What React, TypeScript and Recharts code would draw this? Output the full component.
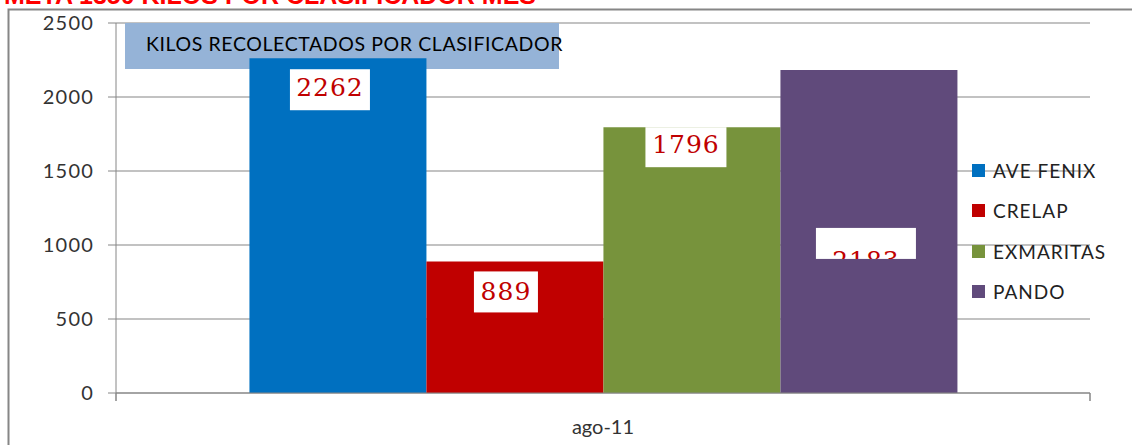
import React from 'react';
import { BarChart, Bar, XAxis, YAxis, CartesianGrid, Legend, LabelList, Customized } from 'recharts';

const categories = ['ago-11'];
const seriesNames = ['AVE FENIX', 'CRELAP', 'EXMARITAS', 'PANDO'];
const aveFenix = [2262];
const crelap = [889];
const exmaritas = [1796];
const pando = [2183];
const yTicks = [0, 500, 1000, 1500, 2000, 2500];

const colors = ['#0070c0', '#c00000', '#77933c', '#604a7b'];

const data = categories.map((name, i) => ({
  name,
  'AVE FENIX': aveFenix[i],
  CRELAP: crelap[i],
  EXMARITAS: exmaritas[i],
  PANDO: pando[i],
}));

// white value boxes, placed relative to the top of each bar
const boxStyles = [
  { dx: -8, dy: 11, w: 80, h: 41, base: 27 },
  { dx: -9, dy: 10, w: 64, h: 41, base: 29 },
  { dx: -6, dy: 0, w: 81, h: 40, base: 26 },
  { dx: -3, dy: 158, w: 100, h: 31, base: 41 },
];

const labelFont = '"DejaVu Serif", "Liberation Serif", serif';
const sansFont = 'Lato, "Open Sans", sans-serif';

const makeLabel = (idx: number) => (props: any) => {
  const { x, y, width, value } = props;
  const s = boxStyles[idx];
  const cx = x + width / 2 + s.dx;
  const top = y + s.dy;
  const id = `lbl-clip-${idx}`;
  return (
    <g>
      <defs>
        <clipPath id={id}>
          <rect x={cx - s.w / 2} y={top} width={s.w} height={s.h} />
        </clipPath>
      </defs>
      <rect x={cx - s.w / 2} y={top} width={s.w} height={s.h} fill="#ffffff" />
      <text
        x={cx}
        y={top + s.base}
        textAnchor="middle"
        fill="#c00000"
        fontFamily={labelFont}
        fontSize={25}
        letterSpacing={1}
        clipPath={`url(#${id})`}
      >
        {value}
      </text>
    </g>
  );
};

const LegendBox = () => (
  <div style={{ fontFamily: sansFont, fontSize: 19, letterSpacing: 1, color: '#222' }}>
    {seriesNames.map((n, i) => (
      <div key={n} style={{ display: 'flex', alignItems: 'center', height: 40.5 }}>
        <span style={{ display: 'inline-block', width: 13, height: 13, background: colors[i], marginRight: 8 }} />
        <span>{n}</span>
      </div>
    ))}
  </div>
);

const Decorations = () => (
  <g>
    <rect x={8.5} y={9.5} width={1200} height={500} fill="none" stroke="#868686" strokeWidth={2} />
    <text x={4} y={4} fill="#ff0000" fontFamily='"Liberation Sans", Arial, sans-serif' fontWeight="bold" fontSize={25}>
      META 1350 KILOS POR CLASIFICADOR MES
    </text>
    <rect x={125} y={23} width={434} height={46} fill="#95b3d7" />
    <text x={146} y={51} fill="#000" fontFamily={sansFont} fontSize={19.5} letterSpacing={0.6}>
      KILOS RECOLECTADOS POR CLASIFICADOR
    </text>
    <line x1={1090} y1={393} x2={1090} y2={401} stroke="#868686" strokeWidth={1.5} />
    <line x1={116} y1={393} x2={116} y2={401} stroke="#868686" strokeWidth={1.5} />
  </g>
);

export default function App() {
  return (
    <div style={{ position: 'absolute', left: 0, top: 0, width: 1132, height: 445, background: '#fff' }}>
      <BarChart
        width={1132}
        height={445}
        data={data}
        margin={{ top: 23, right: 42, left: 56, bottom: 22 }}
        barCategoryGap="13.7%"
        barGap={0}
      >
        <CartesianGrid vertical={false} stroke="#868686" strokeWidth={1.2} />
        <XAxis
          dataKey="name"
          height={30}
          stroke="#868686"
          tickLine={false}
          tickSize={0}
          tickMargin={27}
          tick={{ fill: '#333', fontSize: 20, fontFamily: sansFont }}
        />
        <YAxis
          width={60}
          domain={[0, 2500]}
          ticks={yTicks}
          interval={0}
          stroke="#868686"
          tickSize={8}
          tickMargin={14}
          tick={{ fill: '#333', fontSize: 20, fontFamily: sansFont, letterSpacing: 1.2 }}
        />
        <Legend
          layout="horizontal"
          verticalAlign="middle"
          align="center"
          wrapperStyle={{ left: 972, top: 150, width: 160 }}
          content={<LegendBox />}
        />
        {seriesNames.map((n, i) => (
          <Bar key={n} dataKey={n} fill={colors[i]} isAnimationActive={false}>
            <LabelList dataKey={n} content={makeLabel(i)} />
          </Bar>
        ))}
        <Customized component={Decorations} />
      </BarChart>
    </div>
  );
}
